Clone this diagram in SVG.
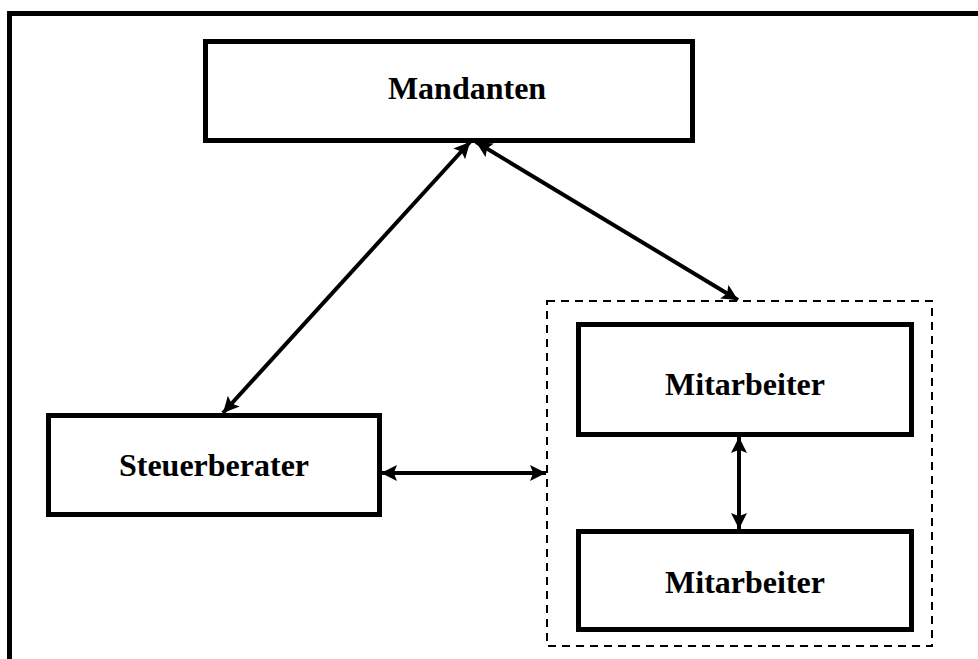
<svg xmlns="http://www.w3.org/2000/svg" width="978" height="659" viewBox="0 0 978 659">
<defs>
<style>
.frame{fill:none;stroke:#000;stroke-width:5}
.box{fill:#fff;stroke:#000;stroke-width:5}
.dash{fill:none;stroke:#000;stroke-width:2;stroke-dasharray:8,6}
.lbl{font-family:"Liberation Serif","Times New Roman",serif;font-weight:bold;font-size:32px;text-anchor:middle;fill:#000}
.conn{stroke:#000;stroke-width:4;fill:none;marker-start:url(#ah);marker-end:url(#ah)}
</style>
<marker id="ah" viewBox="0 0 10 10" refX="10" refY="5" markerWidth="4" markerHeight="4" orient="auto-start-reverse" markerUnits="strokeWidth">
<path d="M0,0 L10,5 L0,10 L2,5 z" fill="#000"/>
</marker>
</defs>
<path class="frame" d="M9.5,659 L9.5,13.5 L978,13.5"/>
<rect class="dash" x="547" y="301" width="385" height="345"/>
<g id="connectors">
<line class="conn" x1="470" y1="142" x2="223" y2="413"/>
<line class="conn" x1="476" y1="142" x2="738" y2="300"/>
<line class="conn" x1="381" y1="473" x2="546" y2="473"/>
<line class="conn" x1="739" y1="437" x2="739" y2="529"/>
</g>
<g id="mandanten">
<rect class="box" x="205.5" y="41.5" width="487" height="99"/>
<text class="lbl" x="467" y="99">Mandanten</text>
</g>
<g id="steuerberater">
<rect class="box" x="48.5" y="415.5" width="331" height="99"/>
<text class="lbl" x="214" y="476">Steuerberater</text>
</g>
<g id="mitarbeiter1">
<rect class="box" x="578.5" y="324.5" width="333" height="110"/>
<text class="lbl" x="745" y="395">Mitarbeiter</text>
</g>
<g id="mitarbeiter2">
<rect class="box" x="578.5" y="531.5" width="333" height="98"/>
<text class="lbl" x="745" y="593">Mitarbeiter</text>
</g>
</svg>
